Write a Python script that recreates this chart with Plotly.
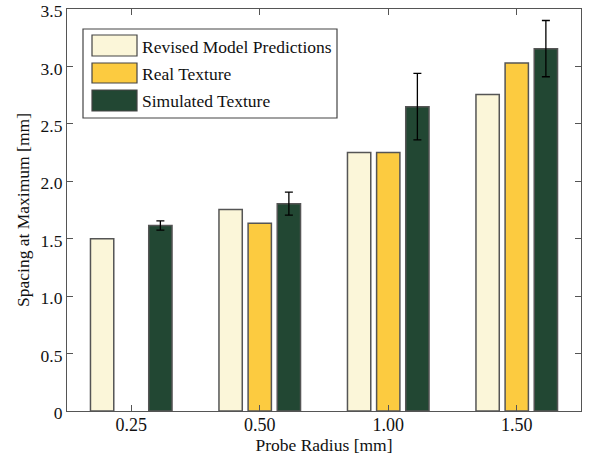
import plotly.graph_objects as go

categories = ["0.25", "0.50", "1.00", "1.50"]
revised = [1.50, 1.755, 2.25, 2.755]
real = [None, 1.635, 2.25, 3.03]
simulated = [1.615, 1.805, 2.65, 3.155]
simulated_err = [0.04, 0.10, 0.29, 0.245]
series_names = ["Revised Model Predictions", "Real Texture", "Simulated Texture"]
colors = ["#FBF6D9", "#FCCB40", "#224733"]

FONT = "Liberation Serif, Times New Roman, serif"
W, H = 596, 462
ML, MR, MT, MB = 67, 15, 9, 51

fig = go.Figure()
for name, vals, col in zip(series_names, [revised, real, simulated], colors):
    kw = {}
    if name == "Simulated Texture":
        kw["error_y"] = dict(type="data", array=simulated_err, visible=True,
                             color="black", thickness=1.3, width=4)
    fig.add_trace(go.Bar(x=categories, y=vals, name=name, marker_color=col,
                         marker_line=dict(color="#555555", width=1.5),
                         showlegend=False, hoverinfo="skip", **kw))

pw, ph = W - ML - MR, H - MT - MB
def px(x):
    return (x - ML) / pw
def py(y):
    return (H - MB - y) / ph

shapes = [dict(type="rect", xref="paper", yref="paper",
               x0=px(83), x1=px(337), y0=py(118), y1=py(29),
               line=dict(color="#444444", width=1.2), fillcolor="white", layer="above")]
annotations = []
rows = [(35, 56), (63, 83), (90, 111)]
for (t, b), name, col in zip(rows, series_names, colors):
    shapes.append(dict(type="rect", xref="paper", yref="paper",
                       x0=px(92), x1=px(137), y0=py(b), y1=py(t),
                       line=dict(color="#444444", width=1.2), fillcolor=col, layer="above"))
    annotations.append(dict(xref="paper", yref="paper", x=px(140), y=py((t + b) / 2 + 1),
                            text=name, showarrow=False, xanchor="left", yanchor="middle",
                            font=dict(family=FONT, size=17.5, color="#111111")))

fig.update_layout(
    width=W, height=H,
    margin=dict(l=ML, r=MR, t=MT, b=MB, autoexpand=False),
    plot_bgcolor="white", paper_bgcolor="white",
    barmode="group", bargap=0.32, bargroupgap=0.2,
    font=dict(family=FONT, size=17.5, color="#111111"),
    shapes=shapes, annotations=annotations,
    xaxis=dict(type="category", showline=True, linecolor="#555555", linewidth=1.2,
               mirror="ticks", ticks="inside", ticklen=6, tickcolor="#555555",
               showgrid=False, tickfont=dict(size=18), automargin=False,
               ticklabelstandoff=-3,
               title=dict(text="Probe Radius [mm]", font=dict(size=17.5), standoff=4)),
    yaxis=dict(range=[0, 3.5], showline=True, linecolor="#555555", linewidth=1.2,
               mirror="ticks", ticks="inside", ticklen=6, tickcolor="#555555",
               showgrid=False, zeroline=False, automargin=False,
               ticklabeloverflow="allow", ticklabelshift=2,
               tickvals=[0, 0.5, 1, 1.5, 2, 2.5, 3, 3.5],
               ticktext=["0", "0.5", "1.0", "1.5", "2.0", "2.5", "3.0", "3.5"],
               tickfont=dict(size=17.5),
               title=dict(text="Spacing at Maximum [mm]", font=dict(size=17.5), standoff=6)),
)

fig.write_html("out.html", post_script="document.body.style.margin='0';",
               config={"displayModeBar": False})
